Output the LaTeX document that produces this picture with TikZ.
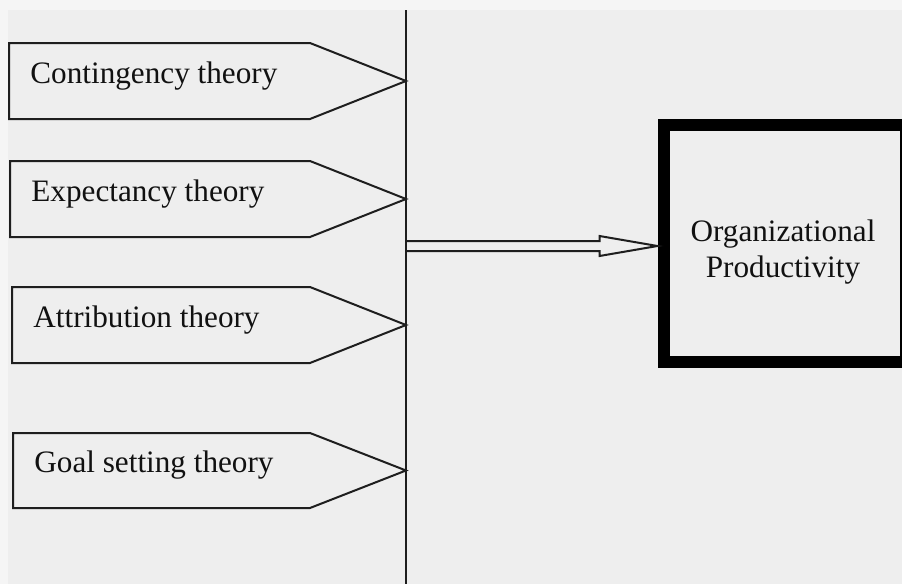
\documentclass[tikz,border=0pt]{standalone}
\usepackage{fontspec}
\setmainfont{Liberation Serif}
\usetikzlibrary{calc}
\definecolor{bgc}{HTML}{EEEEEE}
\definecolor{bgl}{HTML}{F5F5F5}
\definecolor{linec}{HTML}{1E1E1E}
\definecolor{textc}{HTML}{111111}
\begin{document}
\begin{tikzpicture}[x=0.5pt,y=-0.5pt,
  theory/.style={draw=linec, line width=1pt, line join=miter},
  axisline/.style={draw=linec, line width=1pt},
  lbl/.style={font=\fontsize{15.6}{18}\selectfont, anchor=base west, inner sep=0pt, text=textc},
  prodbox/.style={draw=black, line width=6pt, minimum width=121.25pt, minimum height=118.5pt, inner sep=0pt},
  prodlbl/.style={font=\fontsize{15.6}{18}\selectfont, align=center, inner sep=0pt, text=textc},
  blockarrow/.style={draw=linec, line width=1pt, line join=miter}
]
\fill[bgc] (0,0) rectangle (902,584);
\fill[bgl] (0,0) rectangle (902,10);
\fill[bgl] (0,0) rectangle (8,584);
\useasboundingbox (0,0) rectangle (902,584);

% vertical collector line
\coordinate (vtop) at (406,10);
\coordinate (vbot) at (406,584);
\draw[axisline] (vtop) -- (vbot);

% theory arrows
\foreach \n/\t/\b/\l/\txt in {c/43/119/9/Contingency theory, e/161/237/10/Expectancy theory, a/287/363/12/Attribution theory, g/433/508/13/Goal setting theory}
{
  \coordinate (\n tip) at (406,{(\t+\b)/2});
  \draw[theory] (\l,\t) -- (310,\t) -- (\n tip) -- (310,\b) -- (\l,\b) -- cycle;
  \node[lbl] (\n) at (\l+21,\b-35.5) {\txt};
}

% output box
\node[prodbox] (prod) at (784.75,243) {};
\node[prodlbl] (prodtxt) at (783,252) {Organizational\\Productivity};

% block arrow
\coordinate (astart) at (406,246);
\coordinate (atip) at (prod.west |- astart);
\draw[blockarrow] ($(astart)+(0,-5)$) -- ($(atip)+(-58,-5)$) -- ($(atip)+(-58,-10)$) -- (atip)
  -- ($(atip)+(-58,10)$) -- ($(atip)+(-58,5)$) -- ($(astart)+(0,5)$);
\end{tikzpicture}
\end{document}
